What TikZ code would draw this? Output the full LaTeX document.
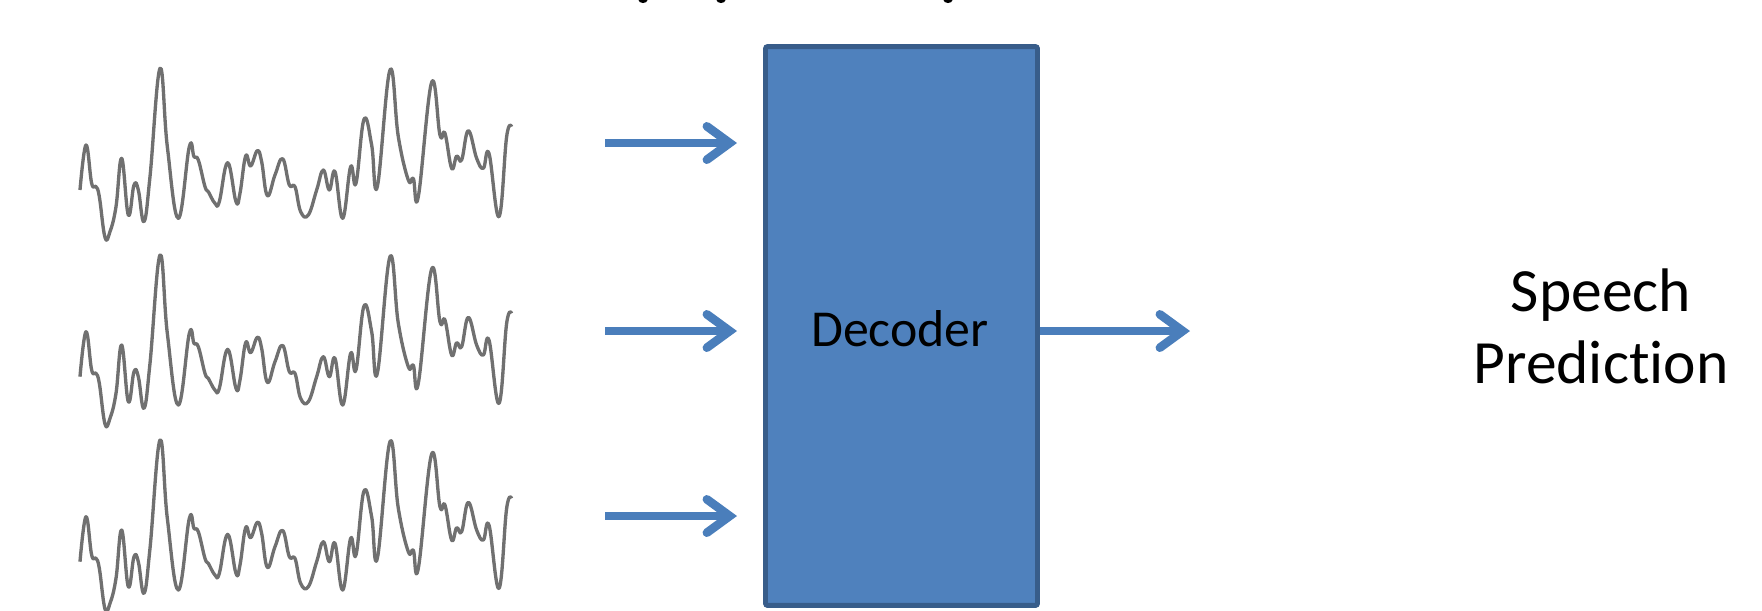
\documentclass[tikz,border=0pt]{standalone}
\usepackage{fontspec}
\setmainfont{Carlito}[Ligatures={NoCommon,NoRare,NoContextual}]
\usetikzlibrary{arrows.meta}
\definecolor{boxfill}{HTML}{4F81BD}
\definecolor{boxline}{HTML}{385D8A}
\definecolor{arrowblue}{HTML}{4A7EBB}
\definecolor{wavegray}{HTML}{707070}
\tikzset{
  blockarrow/.style={draw=arrowblue, line width=4.9pt,
    -{Straight Barb[length=13pt,width=19pt,line join=miter,line cap=round]}},
  decoderbox/.style={draw=boxline, fill=boxfill, line width=2.8pt,
    rounded corners=1.2pt, minimum width=5.44cm, minimum height=11.18cm,
    inner sep=0pt},
  wave/.style={draw=wavegray, line width=1.9pt, line join=round, smooth, tension=0.7},
  bigtext/.style={font=\fontsize{35}{41}\selectfont, align=center, text=black}
}
% one speech waveform, drawn in 3x units relative to its upper left corner
\newcommand{\speechwave}{%
  \draw[wave] plot coordinates {
    (60,420) (78,285) (95,400) (108,410) (118,440) (135,562) (150,545)
    (168,470) (185,325) (205,495) (222,405) (235,420) (252,515) (270,380)
    (300,55) (322,290) (355,505) (388,290) (402,320) (415,330) (435,410)
    (445,425) (465,460) (478,455) (503,338) (528,455) (540,430) (557,318)
    (572,348) (592,302) (605,335) (622,437) (645,375) (668,326) (688,405)
    (705,410) (722,485) (745,495) (770,420) (790,360) (808,420) (825,365)
    (848,505) (872,350) (888,400) (912,208) (935,285) (952,410) (990,60)
    (1015,260) (1045,390) (1060,385) (1075,440) (1115,97) (1140,255)
    (1155,250) (1175,355) (1190,318) (1205,330) (1225,242) (1250,325)
    (1270,355) (1287,310) (1317,500) (1340,260) (1355,230)};}
\begin{document}
\begin{tikzpicture}[x=0.02cm, y=-0.02cm]
\useasboundingbox (0,0) rectangle (1762,610);
\clip (0,0) rectangle (1762,610);

% descenders of the title line above
\fill[black] (643,0) ellipse (4.5 and 3);
\fill[black] (721,0) ellipse (4.5 and 3);
\fill[black] (948,0) ellipse (4.5 and 3);

% three EEG-like input waveforms
\foreach \dy/\bot in {0/236.7, 186.7/233.3, 371.7/240} {
  \begin{scope}
    \clip (60,{50+\dy}) rectangle (540,{50+\dy+\bot});
    \begin{scope}[shift={(60,{50+\dy})}, x=0.02cm/3, y=-0.02cm/3]
      \speechwave
    \end{scope}
  \end{scope}
}

% input arrow end points
\coordinate (in1) at (605,143);
\coordinate (in2) at (605,331);
\coordinate (in3) at (605,516);
\coordinate (t1) at (737,143);
\coordinate (t2) at (737,331);
\coordinate (t3) at (737,516);
\coordinate (out) at (1017,331);
\coordinate (pred) at (1190,331);

% output arrow starts inside the decoder block
\draw[blockarrow] (out) -- (pred);

\node[decoderbox] (dec) at (901.5,326) {};
\node[font=\fontsize{29.5}{34}\selectfont] (declabel) at (900,329) {Decoder};

\draw[blockarrow] (in1) -- (t1);
\draw[blockarrow] (in2) -- (t2);
\draw[blockarrow] (in3) -- (t3);

\node[bigtext] (speech) at (1601,326) {Speech\\Prediction};
\end{tikzpicture}
\end{document}
